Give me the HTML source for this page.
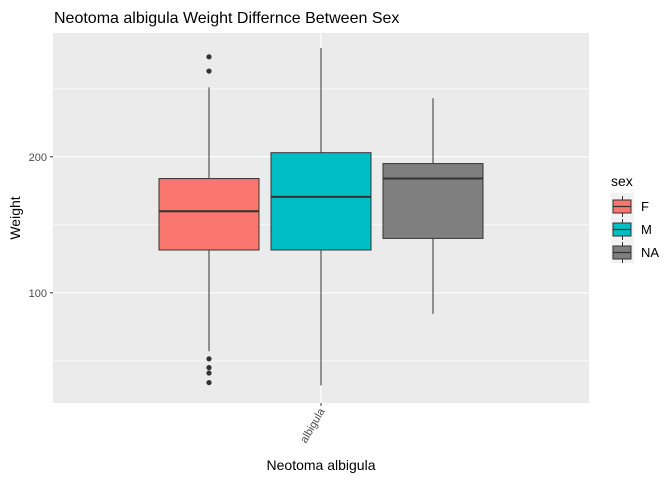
<!DOCTYPE html>
<html><head><meta charset="utf-8"><style>
body{margin:0;background:#fff;font-family:"Liberation Sans",Arial,sans-serif}
</style></head><body>
<svg width="672" height="480" xmlns="http://www.w3.org/2000/svg" font-family="Liberation Sans, Arial, sans-serif">
<rect width="672" height="480" fill="#fff"/>
<text x="54" y="23" font-size="16" fill="#000">Neotoma albigula Weight Differnce Between Sex</text>
<g id="panel"></g>
<text transform="translate(20,218) rotate(-90)" text-anchor="middle" font-size="14">Weight</text>
<text x="321" y="470" text-anchor="middle" font-size="14">Neotoma albigula</text>
<g>
<text x="611" y="186" font-size="14">sex</text>
<rect x="611" y="193" width="23" height="70" fill="#f2f2f2"/>
<g id="legend-keys"></g>
</g>
</svg>
<script>
const categories=["F","M","NA"];
const q1=[131.5,131.5,140];
const med=[160,170.5,184];
const q3=[184,203,195];
const wlo=[57,32,84.5];
const whi=[251,280,243];
const outF=[273.5,263,51.5,45,41,34];
const outliers=[outF,[],[]];
const fills=["#F8766D","#00BFC4","#7F7F7F"];
const yTicks=[100,200];
const ns="http://www.w3.org/2000/svg";
const L=53,R=589,T=33,B=403,vmin=19,vmax=291;
const y=v=>B-(v-vmin)/(vmax-vmin)*(B-T);
const cx=321,bw=100,step=112;
const xc=i=>cx+(i-1)*step;
function mk(t,a,p){const e=document.createElementNS(ns,t);for(const k in a)e.setAttribute(k,a[k]);(p||panel).appendChild(e);return e;}
const panel=document.getElementById('panel');
const bg=mk('rect',{x:L,y:T,width:R-L,height:B-T,fill:'#EBEBEB'});


const minor=[];for(let i=0;i<yTicks.length;i++){minor.push(yTicks[i]-50);}minor.push(yTicks[yTicks.length-1]+50);
minor.forEach(v=>{if(v>vmin&&v<vmax){const g=mk('line',{x1:L,x2:R,y1:y(v),y2:y(v),stroke:'#fff','stroke-width':0.6});}});
yTicks.forEach(v=>{const g=mk('line',{x1:L,x2:R,y1:y(v),y2:y(v),stroke:'#fff','stroke-width':1.2});
mk('line',{x1:L-3,x2:L,y1:y(v),y2:y(v),stroke:'#333'});
const t=mk('text',{x:L-6,y:y(v)+4,'text-anchor':'end','font-size':11,fill:'#4d4d4d'});t.textContent=v;});
mk('line',{x1:cx,x2:cx,y1:T,y2:B,stroke:'#fff','stroke-width':1.2});
mk('line',{x1:cx,x2:cx,y1:B,y2:B+3,stroke:'#333'});
const xt=mk('text',{transform:`translate(${cx+4},${B+8}) rotate(-60)`,'text-anchor':'end','font-size':11,fill:'#4d4d4d'});xt.textContent='albigula';


categories.forEach((c,i)=>{const g=mk('g',{});


const x=xc(i);
mk('line',{x1:x,x2:x,y1:y(whi[i]),y2:y(q3[i]),stroke:'#333'},g);
mk('line',{x1:x,x2:x,y1:y(q1[i]),y2:y(wlo[i]),stroke:'#333'},g);
mk('rect',{x:x-bw/2,y:y(q3[i]),width:bw,height:y(q1[i])-y(q3[i]),fill:fills[i],stroke:'#333','stroke-width':1},g);
mk('line',{x1:x-bw/2,x2:x+bw/2,y1:y(med[i]),y2:y(med[i]),stroke:'#333','stroke-width':2},g);
outliers[i].forEach(v=>{const p=mk('circle',{cx:x,cy:y(v),r:2.6,fill:'#333'},g);});
});
const lk=document.getElementById('legend-keys');
categories.forEach((c,i)=>{const g=mk('g',{},lk);


const ty=196+i*23;
mk('line',{x1:622.5,x2:622.5,y1:ty,y2:ty+21,stroke:'#333'},g);
mk('rect',{x:613,y:ty+4,width:18,height:13,fill:fills[i],stroke:'#333'},g);
mk('line',{x1:613,x2:631,y1:ty+10.5,y2:ty+10.5,stroke:'#333','stroke-width':1.2},g);
const t=mk('text',{x:641,y:ty+15,'font-size':13,fill:'#000'},g);t.textContent=c;});
</script>
</body></html>
